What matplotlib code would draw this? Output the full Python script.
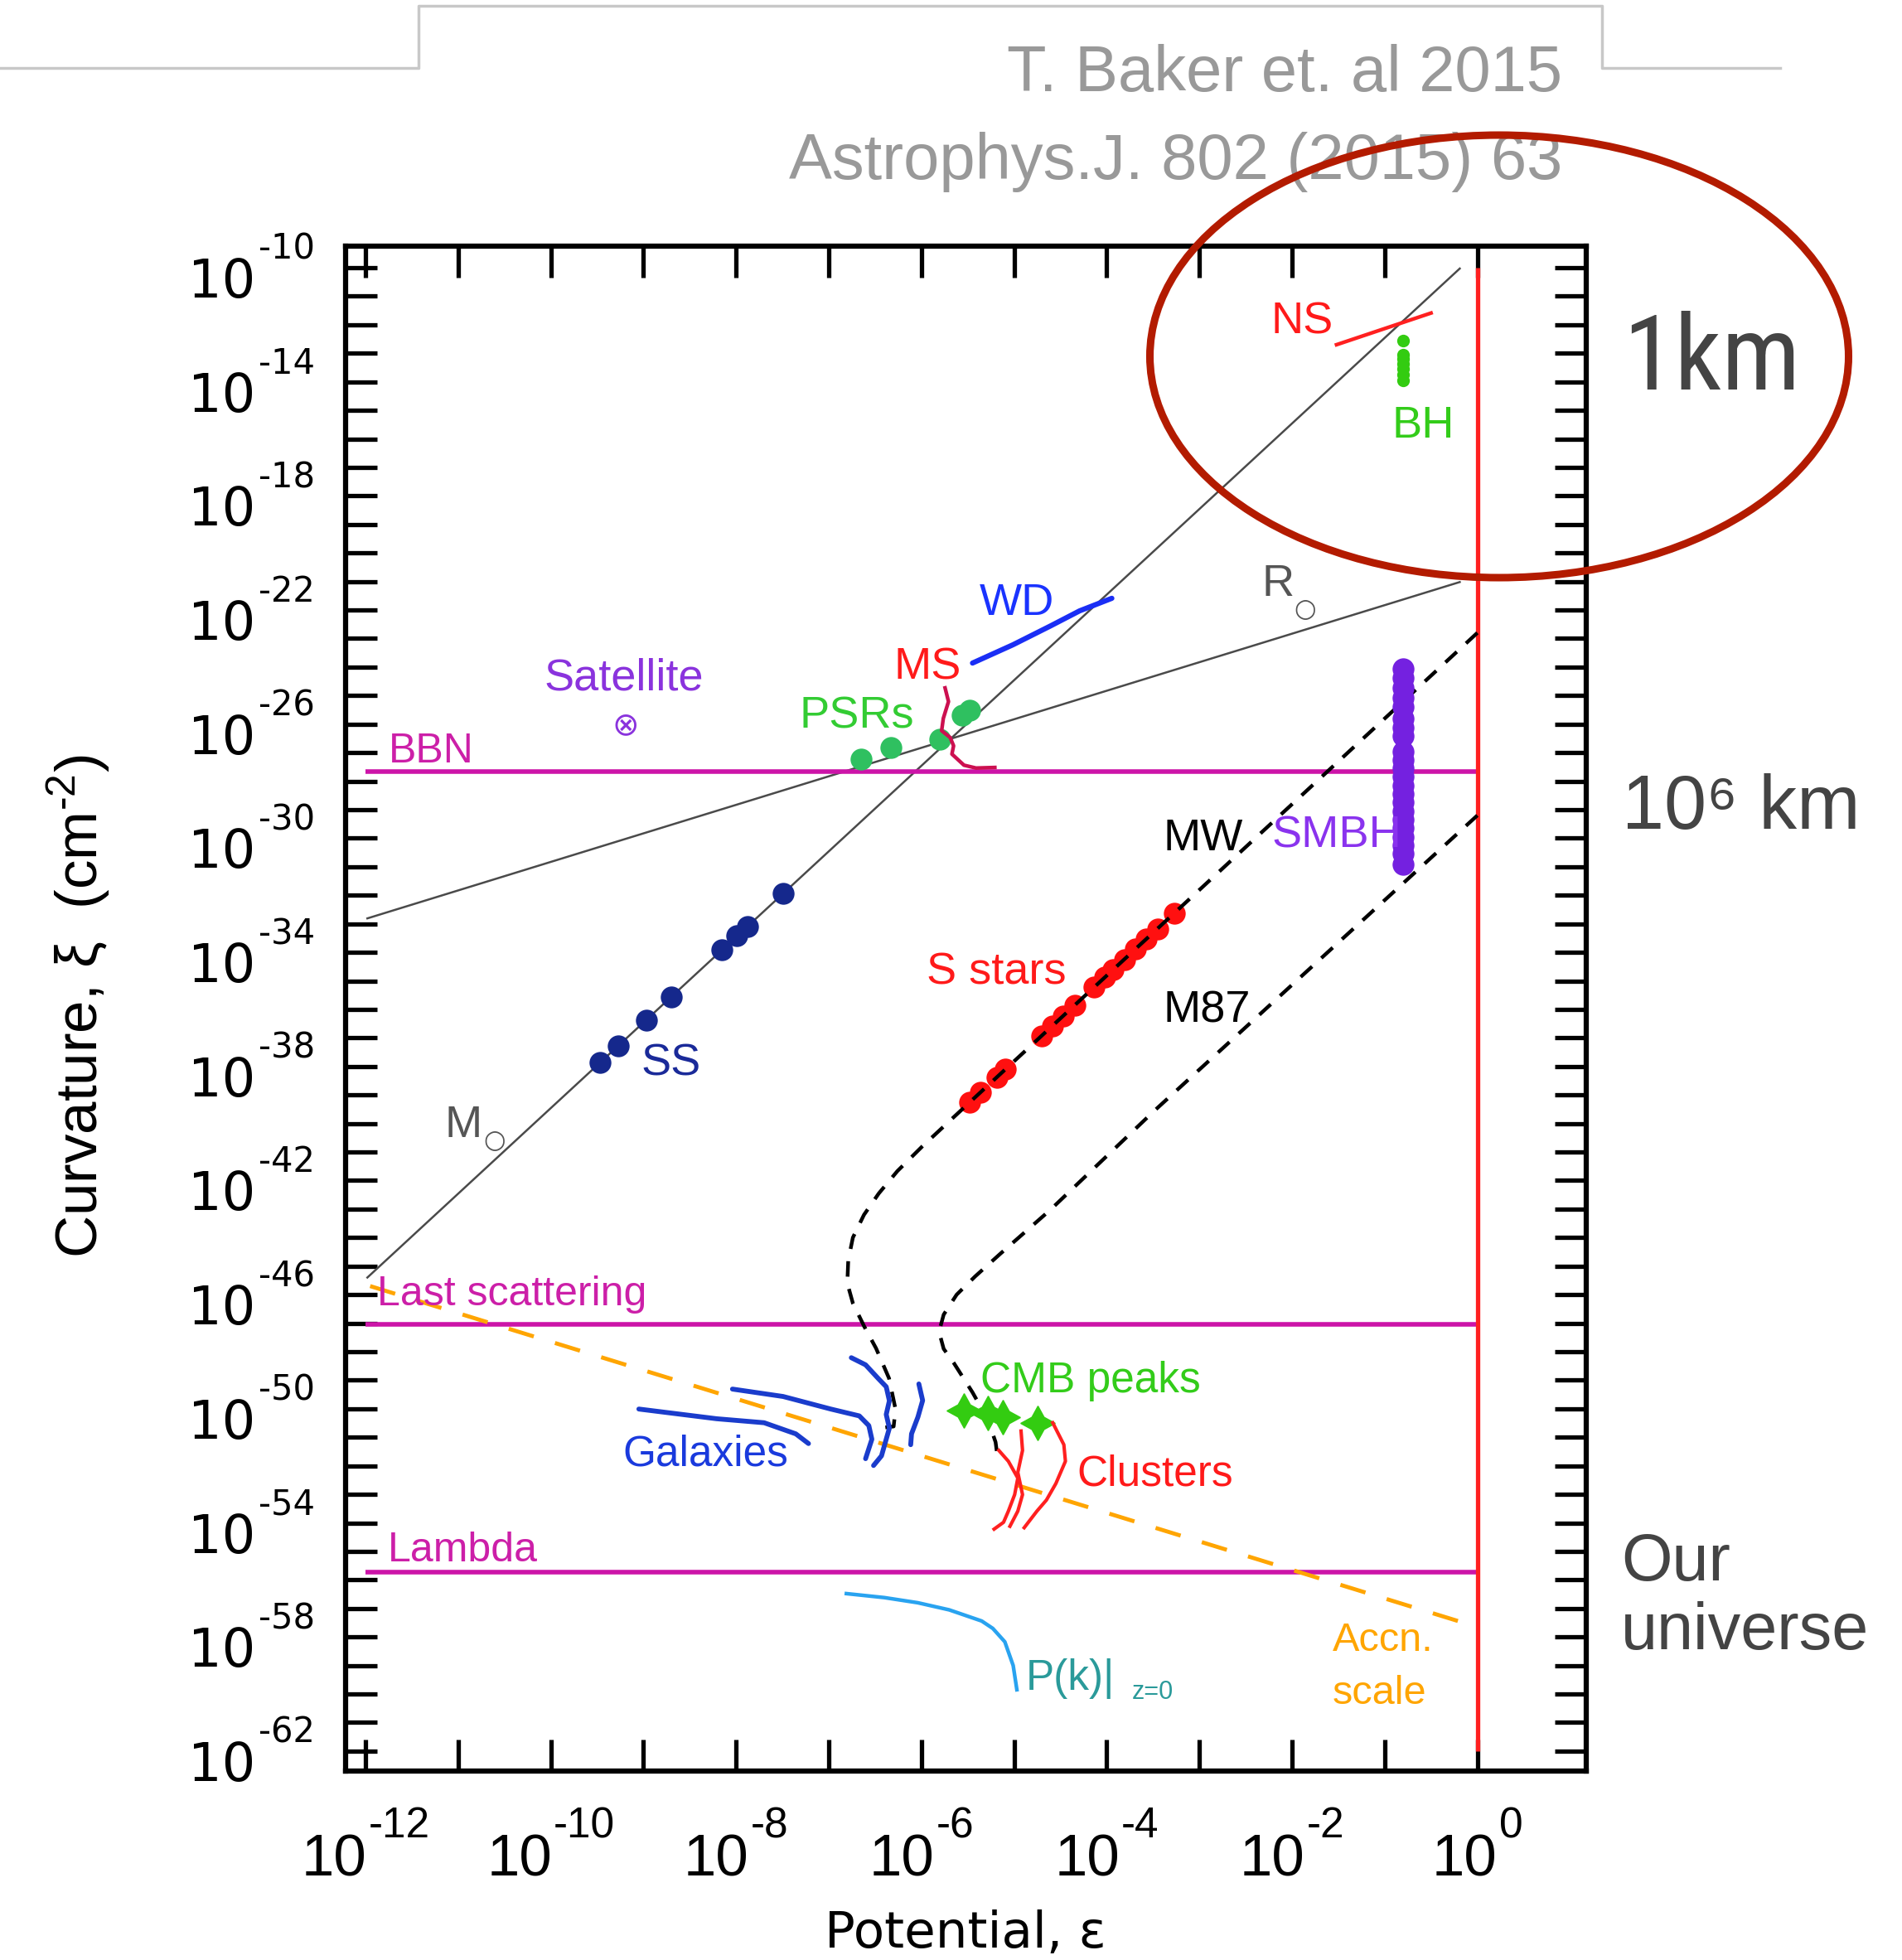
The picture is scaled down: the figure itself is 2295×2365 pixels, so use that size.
import numpy as np
import matplotlib
matplotlib.use("Agg")
import matplotlib.pyplot as plt
from matplotlib import font_manager
from matplotlib.patches import Ellipse
from matplotlib.lines import Line2D

# all values are log10(potential) and log10(curvature)
msun_eps = [-11.98, -0.19]
msun_xi = [-45.40, -10.03]
rsun_eps = [-11.98, -0.19]
rsun_xi = [-32.81, -21.02]

bbn_xi = -27.66
lastscat_xi = -47.04
lambda_xi = -55.73

accn_eps = [-11.95, 0.0]
accn_xi = [-45.70, -57.65]

mw_eps = [0.0, -5.48, -5.99, -6.26, -6.46, -6.62, -6.74, -6.79, -6.80, -6.74, -6.62,
          -6.49, -6.35, -6.28, -6.30, -6.40]
mw_xi = [-22.80, -39.26, -40.80, -41.67, -42.45, -43.20, -44.00, -44.80, -45.60, -46.30,
         -47.10, -47.88, -48.93, -50.01, -50.62, -50.66]

m87_eps = [0.0, -3.485, -4.61, -5.15, -5.42, -5.62, -5.76, -5.81, -5.76, -5.65, -5.45,
           -5.28, -5.20, -5.18]
m87_xi = [-29.20, -39.55, -43.03, -44.57, -45.36, -46.00, -46.70, -47.30, -47.90, -48.40,
          -49.42, -50.40, -51.17, -51.66]

ss_eps = [-9.47, -9.27, -8.97, -8.70, -8.15, -7.99, -7.88, -7.49]
ss_xi = [-37.87, -37.27, -36.37, -35.56, -33.91, -33.43, -33.10, -31.93]

sstar_eps = [-5.479, -5.363, -5.184, -5.095, -4.704, -4.585, -4.466, -4.346, -4.138,
             -4.019, -3.929, -3.810, -3.691, -3.572, -3.452, -3.273]
sstar_xi = [-39.26, -38.91, -38.37, -38.10, -36.93, -36.58, -36.22, -35.86, -35.23,
            -34.88, -34.61, -34.25, -33.89, -33.54, -33.18, -32.64]

smbh_eps = [-0.80] * 22
smbh_xi = [-24.05, -24.39, -24.73, -25.07, -25.41, -25.80, -26.13, -26.42,
           -26.96, -27.25, -27.55, -27.85, -28.15, -28.45, -28.75, -29.05, -29.35,
           -29.65, -29.95, -30.25, -30.55, -30.93]

bh_eps = [-0.80] * 7
bh_xi = [-12.55, -13.05, -13.20, -13.38, -13.55, -13.75, -13.95]

ns_eps = [-1.52, -0.50]
ns_xi = [-12.70, -11.59]

wd_eps = [-5.449, -5.013, -4.602, -4.293, -3.945]
wd_xi = [-23.86, -23.22, -22.55, -22.03, -21.59]

ms_eps = [-5.745, -5.708, -5.764, -5.782, -5.690, -5.653, -5.671, -5.541, -5.411, -5.208]
ms_xi = [-24.73, -25.21, -25.80, -26.23, -26.47, -26.76, -27.05, -27.44, -27.54, -27.52]

psr_eps = [-6.650, -6.330, -5.801, -5.56, -5.48]
psr_xi = [-27.22, -26.81, -26.53, -25.70, -25.50]

cmb_eps = [-5.539, -5.285, -5.122, -4.749]
cmb_xi = [-50.05, -50.15, -50.30, -50.49]

gal1_eps = [-9.050, -8.211, -7.698, -7.356, -7.219]
gal1_xi = [-50.01, -50.35, -50.49, -50.88, -51.22]
gal2_eps = [-8.040, -7.493, -6.979, -6.671, -6.568, -6.535, -6.603]
gal2_xi = [-49.31, -49.57, -50.01, -50.25, -50.59, -51.07, -51.75]
gal3_eps = [-6.757, -6.603, -6.466, -6.380, -6.346, -6.380, -6.346, -6.397, -6.431, -6.517]
gal3_xi = [-48.21, -48.46, -48.94, -49.23, -49.72, -50.20, -50.68, -51.26, -51.65, -51.99]
gal4_eps = [-6.028, -5.987, -6.038, -6.107, -6.116]
gal4_xi = [-49.13, -49.71, -50.29, -50.88, -51.26]

cl1_eps = [-5.165, -5.062, -4.960, -4.994, -5.062, -5.114, -5.216]
cl1_xi = [-51.46, -51.84, -52.43, -53.01, -53.59, -53.98, -54.22]
cl2_eps = [-4.925, -4.909, -4.960, -4.909, -4.960, -5.045]
cl2_xi = [-50.78, -51.46, -52.23, -53.01, -53.59, -54.12]
cl3_eps = [-4.583, -4.463, -4.446, -4.549, -4.651, -4.754, -4.891]
cl3_xi = [-50.49, -51.26, -51.84, -52.62, -53.20, -53.59, -54.17]

pk_eps = [-6.81, -6.40, -6.04, -5.70, -5.35, -5.23, -5.10, -5.01, -4.97]
pk_xi = [-56.48, -56.62, -56.80, -57.05, -57.44, -57.70, -58.17, -59.00, -59.85]

x_ticks = list(range(-12, 1))
x_labeled = [-12, -10, -8, -6, -4, -2, 0]
y_ticks = list(range(-62, -9))
y_labeled = [-10, -14, -18, -22, -26, -30, -34, -38, -42, -46, -50, -54, -58, -62]

# fonts
names = {f.name for f in font_manager.fontManager.ttflist}


def pick(*cands):
    for c in cands:
        if c in names:
            return c
    return "DejaVu Sans"


SANS = pick("Liberation Sans", "Arial")
NARROW = pick("Liberation Sans Narrow", "Roboto Condensed", SANS)
plt.rcParams["font.family"] = [SANS, "DejaVu Sans"]
plt.rcParams["mathtext.fontset"] = "custom"
plt.rcParams["mathtext.rm"] = SANS
plt.rcParams["mathtext.it"] = SANS + ":italic"
plt.rcParams["mathtext.bf"] = SANS + ":bold"


def P(v):
    return 10.0 ** np.asarray(v, dtype=float)


W, H = 2295, 2365
fig = plt.figure(figsize=(W / 100, H / 100), dpi=100)
ax = fig.add_axes([417 / W, 1 - 2137 / H, (1914 - 417) / W, (2137 - 297) / H])
ax.set_xscale("log")
ax.set_yscale("log")

# guide lines
ax.plot(P(msun_eps), P(msun_xi), color="#4a4a4a", lw=1.8, zorder=2)
ax.plot(P(rsun_eps), P(rsun_xi), color="#4a4a4a", lw=1.8, zorder=2)
mag = "#cc14a8"
for yv in [bbn_xi, lastscat_xi, lambda_xi]:
    ax.hlines(P(yv), P(-12.0), P(0.0), color=mag, lw=4.0, zorder=2)
ax.vlines(1.0, P(-62.0), P(-10.0), color="#ff2020", lw=3.8, zorder=3)
ax.plot(P(accn_eps), P(accn_xi), color="#ffa500", lw=3.5, dashes=(6.5, 5.5), zorder=2)
ax.plot(P(mw_eps), P(mw_xi), color="black", lw=3.2, dashes=(4.2, 3.4), zorder=4)
ax.plot(P(m87_eps), P(m87_xi), color="black", lw=3.2, dashes=(4.2, 3.4), zorder=4)

# objects
ax.plot(P(ss_eps), P(ss_xi), "o", color="#15288c", ms=19, mec="none", zorder=5)
ax.plot(P(sstar_eps), P(sstar_xi), "o", color="#ff1010", ms=19, mec="none", zorder=3)
ax.plot(P(smbh_eps), P(smbh_xi), "o", color="#7421e0", ms=19, mec="none", zorder=5)
ax.plot(P(bh_eps), P(bh_xi), "o", color="#33cc11", ms=11, mec="none", zorder=5)
ax.plot(P(ns_eps), P(ns_xi), color="#ff2020", lw=3.2, zorder=5)
ax.plot(P(wd_eps), P(wd_xi), color="#1a2ef5", lw=4.5, solid_capstyle="round", zorder=5)
ax.plot(P(ms_eps), P(ms_xi), color="#cc1050", lw=3.2, zorder=5)
ax.plot(P(psr_eps), P(psr_xi), "o", color="#2fc060", ms=19, mec="none", zorder=3)
ax.plot(P(cmb_eps), P(cmb_xi), marker="D", ls="none", color="#33cc11", ms=13,
        mec="none", zorder=5)
ax.plot(P(cmb_eps), P(cmb_xi), marker=(4, 1, 0), ls="none", color="#33cc11", ms=30,
        mec="#33cc11", zorder=5)
for ge, gx in [(gal1_eps, gal1_xi), (gal2_eps, gal2_xi), (gal3_eps, gal3_xi),
               (gal4_eps, gal4_xi)]:
    ax.plot(P(ge), P(gx), color="#1a3ccc", lw=4.2, solid_capstyle="round",
            solid_joinstyle="round", zorder=5)
for ce, cx in [(cl1_eps, cl1_xi), (cl2_eps, cl2_xi), (cl3_eps, cl3_xi)]:
    ax.plot(P(ce), P(cx), color="#ff2020", lw=3.0, zorder=5)
ax.plot(P(pk_eps), P(pk_xi), color="#29a3f0", lw=3.2, zorder=5)

# labels inside the plot
def lab(lx, ly, s, color, size=39, ha="center", va="baseline", **kw):
    ax.text(10.0 ** lx, 10.0 ** ly, s, color=color, fontsize=size, ha=ha, va=va,
            zorder=6, **kw)


lab(-1.893, -12.32, "NS", "#ff1a1a")
lab(-0.587, -15.96, "BH", "#33cc1a")
lab(-4.974, -22.17, "WD", "#1a33ff")
lab(-2.152, -21.50, "R", "#555555")
lab(-1.857, -21.97, "○", "#555555", size=22, va="center", family="DejaVu Sans")
lab(-5.935, -24.41, "MS", "#ff1a1a")
lab(-6.700, -26.13, "PSRs", "#33cc33")
lab(-9.212, -24.79, "Satellite", "#8a33dd")
lab(-9.194, -26.04, "⊗", "#8a33dd", size=28, va="center", family="DejaVu Sans")
lab(-11.29, -27.34, "BBN", "#cc1fa8", size=36)
lab(-2.957, -30.41, "MW", "black")
lab(-1.517, -30.31, "SMBH", "#8a33ee")
lab(-5.189, -35.13, "S stars", "#ff1a1a")
lab(-2.922, -36.44, "M87", "black")
lab(-8.70, -38.30, "SS", "#1a2a99")
lab(-10.94, -40.48, "M", "#555555")
lab(-10.61, -40.60, "○", "#555555", size=22, va="center", family="DejaVu Sans")
lab(-11.875, -46.37, "Last scattering", "#cc1fa8", size=36, ha="left")
lab(-5.363, -49.42, "CMB peaks", "#33cc1a", size=37, ha="left")
lab(-8.333, -51.98, "Galaxies", "#1a3add", size=37)
lab(-4.326, -52.69, "Clusters", "#ff1a1a", size=37, ha="left")
lab(-11.758, -55.35, "Lambda", "#cc1fa8", size=36, ha="left")
lab(-1.562, -58.48, "Accn.", "#ffa500", size=35, ha="left")
lab(-1.562, -60.35, "scale", "#ffa500", size=35, ha="left")
lab(-4.871, -59.85, "P(k)|", "#2a9a9a", size=37, ha="left")
lab(-3.726, -60.17, "z=0", "#2a9a9a", size=22, ha="left")

# axes styling
ax.set_xlim(10 ** -12.215, 10 ** 1.175)
ax.set_ylim(10 ** -62.70, 10 ** -9.245)
ax.xaxis.set_minor_locator(matplotlib.ticker.NullLocator())
ax.yaxis.set_minor_locator(matplotlib.ticker.NullLocator())
ax.set_xticks(P(x_ticks))
ax.set_yticks(P(y_ticks))
ax.tick_params(which="major", direction="in", length=27.5, width=3.8, top=True,
               right=True, labelbottom=False, labelleft=False)
for s in ax.spines.values():
    s.set_linewidth(4.5)

# tick labels as "10" plus a raised exponent, placed at the axis tick positions
renderer = fig.canvas.get_renderer()


def power_label(x_px, base_y_px, exp, base_size, exp_size, rise, gap, anchor, family):
    t1 = fig.text(0, 0, "10", fontsize=base_size, va="baseline", ha="left",
                  family=family)
    t2 = fig.text(0, 0, exp, fontsize=exp_size, va="baseline", ha="left",
                  family=family)
    w1 = t1.get_window_extent(renderer).width
    w2 = t2.get_window_extent(renderer).width
    total = w1 + gap + w2
    left = x_px - total / 2 if anchor == "center" else x_px - total
    t1.set_position((left / W, base_y_px / H))
    t2.set_position(((left + w1 + gap) / W, (base_y_px + rise) / H))


for v in x_labeled:
    xp = ax.transData.transform((10.0 ** v, 1e-30))[0]
    power_label(xp, H - 2263, str(v), 51, 37, 46, 2, "center", [SANS])
for v in y_labeled:
    yp = ax.transData.transform((1e-5, 10.0 ** v))[1]
    power_label(380, yp - 36, str(v), 46, 30, 46, 4, "right", ["DejaVu Sans"])

fig.text(95 / W, 1 - 1214 / H, r"Curvature, ξ  (cm$^{‐2}$)", rotation=90,
         ha="center", va="center", fontsize=51)
fig.text(1165 / W, 1 - 2350 / H, "Potential, ε", ha="center", va="baseline",
         fontsize=44, family=["DejaVu Sans"])

# slide decorations
gray = "#999999"
fig.text(1885 / W, 1 - 110 / H, "T. Baker et. al 2015", ha="right", va="baseline",
         fontsize=56, color=gray)
fig.text(1885 / W, 1 - 216 / H, "Astrophys.J. 802 (2015) 63", ha="right",
         va="baseline", fontsize=56, color=gray)
fx = np.array([0, 505, 505, 1933, 1933, 2148]) / W
fy = 1 - np.array([82, 82, 7, 7, 82, 82]) / H
fig.add_artist(Line2D(fx, fy, color="#c8c8c8", lw=2.5, transform=fig.transFigure))
fig.add_artist(Ellipse((1809 / W, 1 - 430 / H), 843 / W, 534 / H,
                       transform=fig.transFigure, fill=False, ec="#b31b00", lw=6.5,
                       zorder=10))

side = "#444444"
fig.text(1958 / W, 1 - 470 / H, "1km", fontsize=91, color=side, family=[NARROW],
         va="baseline")
fig.text(1957 / W, 1 - 1000 / H, "10⁶ km", fontsize=66, color=side,
         family=[SANS, "DejaVu Sans"], va="baseline")
fig.text(1956 / W, 1 - 1907 / H, "Our", fontsize=57, color=side, va="baseline")
fig.text(1956 / W, 1 - 1990 / H, "universe", fontsize=57, color=side, va="baseline")

fig.savefig("out.png", dpi=100, facecolor="white")
